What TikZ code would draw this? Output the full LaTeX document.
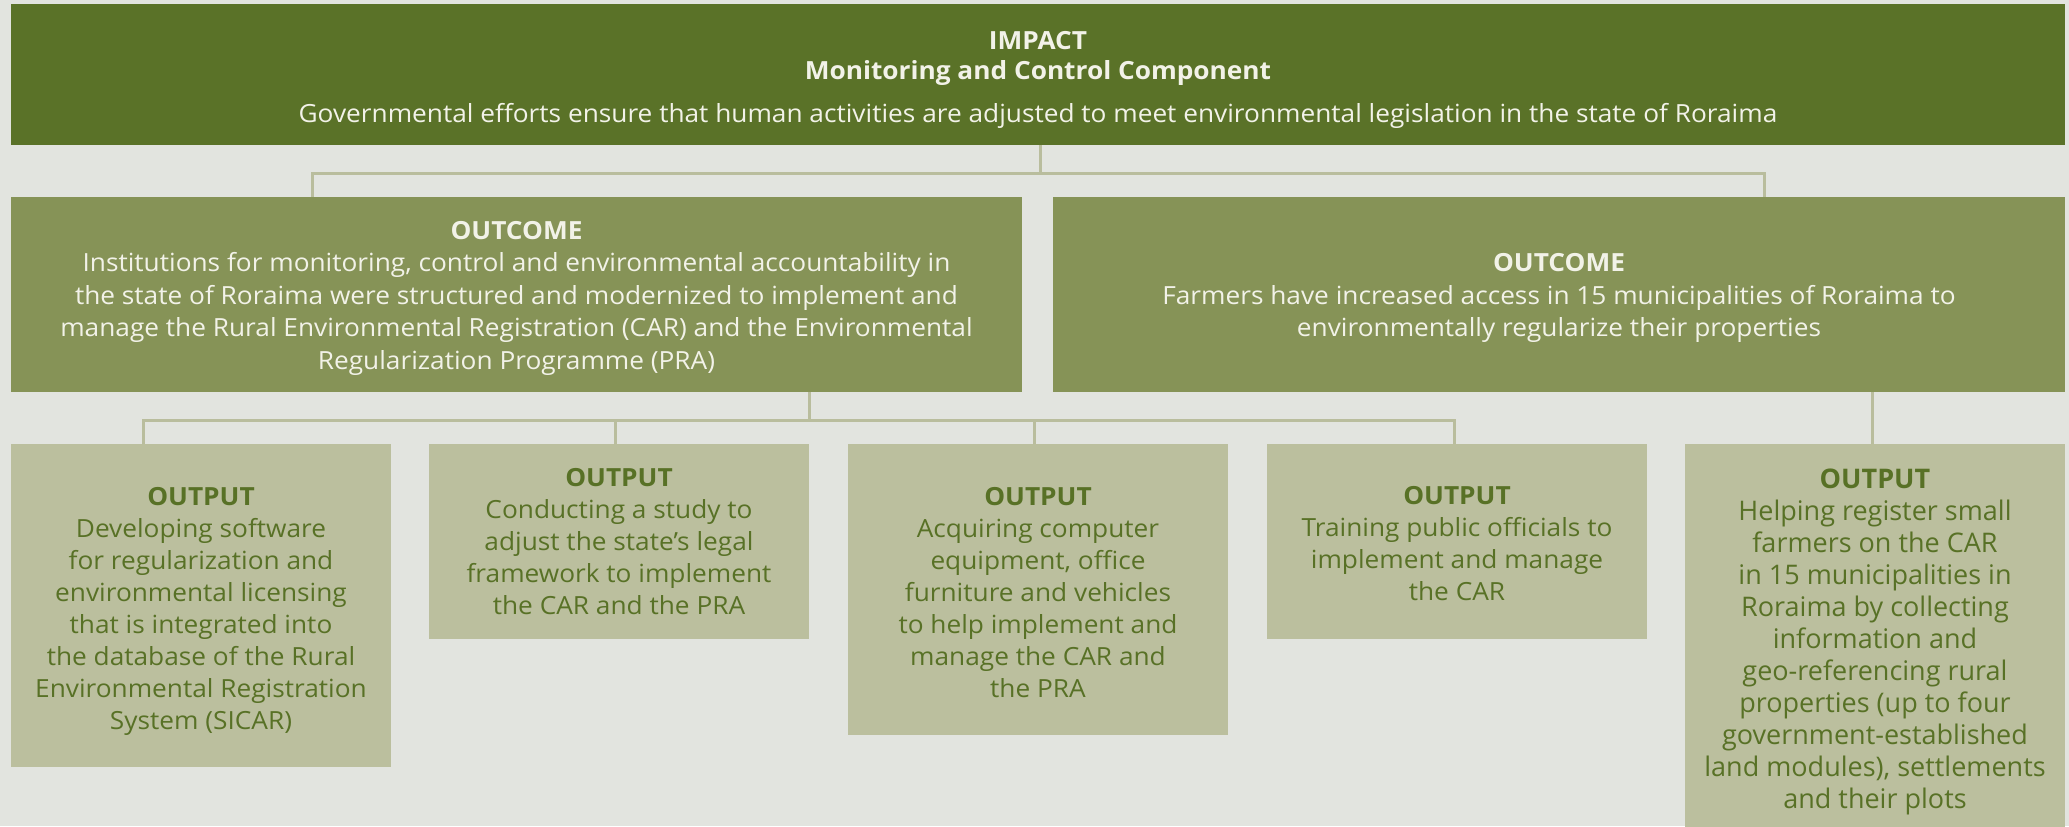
\documentclass[tikz,border=0pt]{standalone}
\usepackage{fontspec}
\setmainfont{Open Sans}
\newfontfamily\condfont[FakeStretch=1.05]{Open Sans}
\newcommand{\liftline}[2]{\rule{0pt}{\dimexpr #1+#2\relax}}
\definecolor{bgc}{HTML}{E2E4DF}
\definecolor{impactc}{HTML}{5A7228}
\definecolor{outcomec}{HTML}{869357}
\definecolor{outputc}{HTML}{BBBF9E}
\definecolor{lighttext}{HTML}{F2F2E8}
\definecolor{darktext}{HTML}{587126}
\definecolor{connc}{HTML}{B9BD9D}
\tikzset{
  box/.style={inner sep=0pt, outer sep=0pt, anchor=north west, align=center},
  impactbox/.style={box, fill=impactc, text=lighttext, minimum width=1027pt, minimum height=70.5pt,
    font=\condfont\fontsize{12.5}{15}\selectfont},
  outcomebox/.style={box, fill=outcomec, text=lighttext, minimum height=97.5pt,
    font=\condfont\fontsize{12.5}{16.25}\selectfont},
  outputbox/.style={box, fill=outputc, text=darktext, minimum width=190pt,
    font=\condfont\fontsize{12.5}{16}\selectfont},
  widebox/.style={box, fill=outputc, text=darktext, minimum width=190pt,
    font=\fontsize{13.5}{16}\selectfont},
  conn/.style={draw=connc, line width=1.5pt}
}
\begin{document}
\begin{tikzpicture}[x=0.5pt,y=-0.5pt]
\useasboundingbox (0,0) rectangle (2069,826);
\fill[bgc] (0,0) rectangle (2069,826);

\node[impactbox] (impact) at (11,4) {\liftline{9.2pt}{5.3pt}\textbf{IMPACT}\\ \textbf{Monitoring and Control Component}\\[6.5pt]
Governmental efforts ensure that human activities are adjusted to meet environmental legislation in the state of Roraima};

\node[outcomebox, minimum width=505.5pt] (oc1) at (11,197) {\liftline{9.2pt}{3.3pt}\textbf{OUTCOME}\\
Institutions for monitoring, control and environmental accountability in\\
the state of Roraima were structured and modernized to implement and\\
manage the Rural Environmental Registration (CAR) and the Environmental\\
Regularization Programme (PRA)};

\node[outcomebox, minimum width=506pt] (oc2) at (1053,197) {\liftline{9.2pt}{3.3pt}\textbf{OUTCOME}\\
Farmers have increased access in 15 municipalities of Roraima to\\
environmentally regularize their properties};

\node[outputbox, minimum height=161.5pt] (op1) at (11,444) {\liftline{9.2pt}{5.3pt}\textbf{OUTPUT}\\
Developing software\\ for regularization and\\ environmental licensing\\ that is integrated into\\
the database of the Rural\\ Environmental Registration\\ System (SICAR)};

\node[outputbox, minimum height=97.5pt] (op2) at (429,444) {\textbf{OUTPUT}\\
Conducting a study to\\ adjust the state’s legal\\ framework to implement\\ the CAR and the PRA};

\node[outputbox, minimum height=145.5pt] (op3) at (848,444) {\liftline{9.2pt}{2.6pt}\textbf{OUTPUT}\\
Acquiring computer\\ equipment, office\\ furniture and vehicles\\ to help implement and\\ manage the CAR and\\ the PRA};

\node[outputbox, minimum height=97.5pt] (op4) at (1267,444) {\liftline{9.2pt}{2pt}\textbf{OUTPUT}\\
Training public officials to\\ implement and manage\\ the CAR};

\node[widebox, minimum height=195pt] (op5) at (1685,444) {\liftline{9.9pt}{3.3pt}\textbf{OUTPUT}\\
Helping register small\\ farmers on the CAR\\ in 15 municipalities in\\ Roraima by collecting\\ information and\\
geo-referencing rural\\ properties (up to four\\ government-established\\ land modules), settlements\\ and their plots};

\coordinate (jA) at (1040,173);
\coordinate (b1) at (312,173);
\coordinate (b2) at (1764,173);
\coordinate (jB) at (809,420);
\coordinate (c1) at (143,420);
\coordinate (c2) at (615,420);
\coordinate (c3) at (1034,420);
\coordinate (c4) at (1454,420);
\coordinate (d5) at (1872,420);

\draw[conn] (impact.south -| jA) -- (jA);
\draw[conn] (oc1.north -| b1) -- (b1) -- (b2) -- (oc2.north -| b2);
\draw[conn] (oc1.south -| jB) -- (jB);
\draw[conn] (op1.north -| c1) -- (c1) -- (c4) -- (op4.north -| c4);
\draw[conn] (op2.north -| c2) -- (c2);
\draw[conn] (op3.north -| c3) -- (c3);
\draw[conn] (oc2.south -| d5) -- (op5.north -| d5);
\end{tikzpicture}
\end{document}
